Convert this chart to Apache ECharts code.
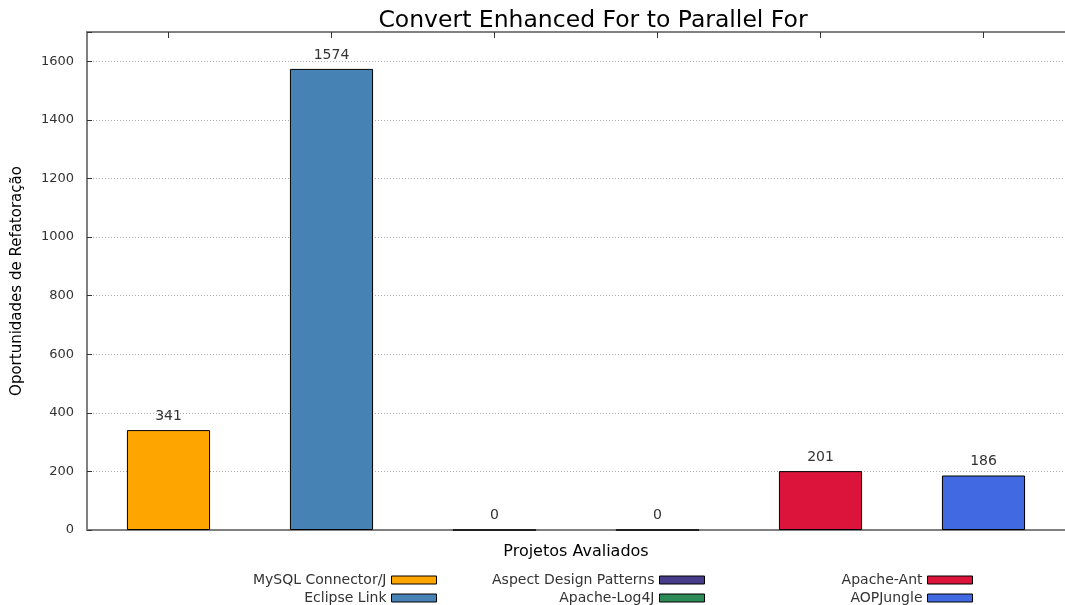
<!DOCTYPE html>
<html>
<head>
<meta charset="utf-8">
<script src="https://cdn.jsdelivr.net/npm/echarts@6/dist/echarts.min.js"></script>
<style>
  html, body { margin: 0; padding: 0; background: #fff; }
  #chart { width: 1065px; height: 605px; }
</style>
</head>
<body>
<div id="chart"></div>
<script>
// dados
const categories = ['MySQL Connector/J', 'Eclipse Link', 'Aspect Design Patterns', 'Apache-Log4J', 'Apache-Ant', 'AOPJungle'];
const values = [341, 1574, 0, 0, 201, 186];
const colors = ['#FFA500', '#4682B4', '#483D8B', '#2E8B57', '#DC143C', '#4169E1'];
const yTicks = [0, 200, 400, 600, 800, 1000, 1200, 1400, 1600];

const font = 'DejaVu Sans';

// uma serie por projeto, empilhadas para ficar centradas na categoria
const series = categories.map(function (name, i) {
  return {
    name: name,
    type: 'bar',
    stack: 'all',
    barWidth: '51%',
    data: values.map(function (v, j) { return j === i ? v : '-' }),
    itemStyle: { color: colors[i], borderColor: '#000', borderWidth: 1 },
    label: {
      show: true,
      position: 'top',
      distance: 7,
      color: '#333',
      fontFamily: font,
      fontSize: 14
    }
  }
});

function legendBox(items, right) {
  return {
    data: items,
    orient: 'vertical',
    align: 'right',
    right: right,
    top: 573,
    height: 40,
    padding: 0,
    itemWidth: 45,
    itemHeight: 8,
    itemGap: 4,
    icon: 'rect',
    itemStyle: { borderColor: '#000', borderWidth: 1 },
    textStyle: { fontFamily: font, fontSize: 14, lineHeight: 14, color: '#333' },
    selectedMode: false
  }
}

const option = {
  animation: false,
  title: {
    text: 'Convert Enhanced For to Parallel For',
    left: 588,
    textAlign: 'center',
    top: 4,
    textStyle: { fontFamily: font, fontSize: 23.5, fontWeight: 'normal', color: '#000' }
  },
  legend: [
    legendBox([categories[0], categories[1]], 628),
    legendBox([categories[2], categories[3]], 360),
    legendBox([categories[4], categories[5]], 92)
  ],
  grid: { left: 87, right: -5, top: 32, bottom: 75 },
  xAxis: [
    {
      type: 'category',
      data: categories,
      name: 'Projetos Avaliados',
      nameLocation: 'middle',
      nameGap: 14,
      nameTextStyle: { fontFamily: font, fontSize: 16, color: '#000' },
      axisLine: { lineStyle: { color: '#808080', width: 2 } },
      axisTick: { show: false },
      axisLabel: { show: false }
    },
    {
      type: 'category',
      data: categories,
      position: 'top',
      axisLine: { lineStyle: { color: '#808080', width: 2 } },
      axisTick: { show: true, inside: true, alignWithLabel: true, interval: 0, length: 6, lineStyle: { color: '#333' } },
      axisLabel: { show: false, interval: 0 }
    }
  ],
  yAxis: {
    type: 'value',
    min: 0,
    max: 1700,
    interval: 200,
    name: 'Oportunidades de Refatoração',
    nameLocation: 'middle',
    nameGap: 62,
    nameTextStyle: { fontFamily: font, fontSize: 15, color: '#000' },
    axisLine: { show: true, lineStyle: { color: '#808080', width: 2 } },
    axisTick: { show: true, inside: true, length: 5, lineStyle: { color: '#333' } },
    axisLabel: {
      fontFamily: font, fontSize: 13, color: '#333', margin: 13,
      formatter: function (v) { return yTicks.indexOf(v) >= 0 ? String(v) : '' }
    },
    splitLine: { show: true, lineStyle: { color: '#aaa', type: [1, 2], width: 1 } }
  },
  series: series
};

const myChart = echarts.init(document.getElementById('chart'));
myChart.setOption(option);
</script>
</body>
</html>
